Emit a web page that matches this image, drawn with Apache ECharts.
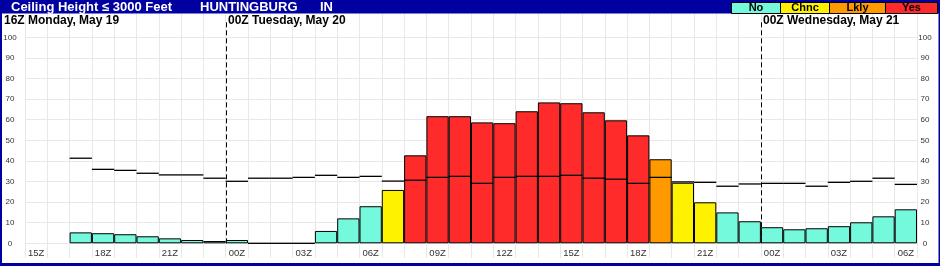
<!DOCTYPE html>
<html><head><meta charset="utf-8">
<script src="https://cdn.jsdelivr.net/npm/echarts@6/dist/echarts.min.js"></script>
<style>html,body{margin:0;padding:0;background:#fff}#c{width:940px;height:266px}</style>
</head><body><div id="c"></div>
<script>
// ---- data ----
const hours = ['15Z','16Z','17Z','18Z','19Z','20Z','21Z','22Z','23Z',
  '00Z','01Z','02Z','03Z','04Z','05Z','06Z','07Z','08Z','09Z','10Z','11Z','12Z','13Z','14Z','15Z','16Z','17Z','18Z','19Z','20Z','21Z','22Z','23Z',
  '00Z','01Z','02Z','03Z','04Z','05Z','06Z'];
const barValues = [null,null,5.3,4.9,4.4,3.4,2.4,1.6,1.1,
  1.6,0,0,0,6.0,12.1,18.0,25.9,42.7,61.7,61.7,58.7,58.3,64.1,68.4,68.0,63.6,59.7,52.4,40.8,29.4,19.9,15.0,10.7,
  7.8,6.8,7.3,8.3,10.2,13.1,16.5];
const barLevels = [null,null,'No','No','No','No','No','No','No',
  'No','No','No','No','No','No','No','Chnc','Yes','Yes','Yes','Yes','Yes','Yes','Yes','Yes','Yes','Yes','Yes','Lkly','Chnc','Chnc','No','No',
  'No','No','No','No','No','No','No'];
const lineValues = [null,null,41.3,35.9,35.4,34.0,33.2,33.2,31.6,
  30.1,31.6,31.6,32.0,33.0,32.0,32.5,30.2,30.6,32.0,32.5,29.1,32.0,32.5,32.5,33.0,31.6,31.1,29.1,32.0,29.8,29.6,27.7,28.8,
  29.1,29.1,27.7,29.6,30.1,31.6,28.6];
const levelNames = ['No','Chnc','Lkly','Yes'];
const dayLabels = ['16Z Monday, May 19','00Z Tuesday, May 20','00Z Wednesday, May 21'];
const dayStartIndex = [9,33];
const yTicks = [0,100,10];
const titleParts = ['Ceiling Height \u2264 3000 Feet','HUNTINGBURG','IN'];

// ---- styles ----
const levelColors = {No:'#74F9DC', Chnc:'#FFF200', Lkly:'#FF9900', Yes:'#FF2A2A'};
const FONT = '"Liberation Sans", Arial, sans-serif';
const BLUE = '#0000A0';
const GRIDC = '#e8e8e8';

const chart = echarts.init(document.getElementById('c'));

const barData = barValues.map((v,i)=> v==null ? '-' : {value:v, itemStyle:{color:levelColors[barLevels[i]]}});
const lineData = [];
lineValues.forEach((v,i)=>{ if(v!=null) lineData.push([i,v]); });

const legendX = [731,780,829,885,937];
const legendGraphics = [];
levelNames.forEach((n,i)=>{
  legendGraphics.push({type:'rect', shape:{x:legendX[i]+0.5,y:2.5,width:legendX[i+1]-legendX[i],height:11}, style:{fill:levelColors[n], stroke:'#000', lineWidth:1}, z:10});
  legendGraphics.push({type:'text', x:(legendX[i]+legendX[i+1])/2+0.5, y:8, style:{text:n, fill:'#000', font:'bold 11px '+FONT, textAlign:'center', textVerticalAlign:'middle'}, z:11});
});

const option = {
  animation:false,
  grid:[{left:25,right:23,top:37.3,bottom:22.7},{left:25,right:23,top:13.5,bottom:8}],
  xAxis:[
    {type:'category', data:hours, gridIndex:0, axisLine:{show:false}, axisTick:{show:false},
     axisLabel:{interval:2, fontSize:9.5, color:'#333', margin:5, fontFamily:FONT}, splitLine:{show:false}},
    {type:'category', data:hours, gridIndex:1, axisLine:{show:false}, axisTick:{show:false}, axisLabel:{show:false},
     splitLine:{show:true, interval:0, lineStyle:{color:GRIDC, width:1}}}
  ],
  yAxis:[
    {type:'value', gridIndex:0, min:yTicks[0], max:yTicks[1], interval:yTicks[2], axisLine:{show:false}, axisTick:{show:false},
     axisLabel:{fontSize:8, color:'#333', align:'center', margin:15, fontFamily:FONT}, splitLine:{lineStyle:{color:GRIDC}}},
    {type:'value', gridIndex:0, position:'right', min:yTicks[0], max:yTicks[1], interval:yTicks[2], axisLine:{show:false}, axisTick:{show:false},
     axisLabel:{fontSize:8, color:'#333', align:'center', margin:8, fontFamily:FONT}, splitLine:{show:false}},
    {type:'value', gridIndex:1, show:false}
  ],
  series:[
    {type:'bar', xAxisIndex:0, yAxisIndex:0, data:barData, barCategoryGap:'0%',
     itemStyle:{borderColor:'#000', borderWidth:1}, z:2},
    {type:'custom', xAxisIndex:0, yAxisIndex:0, data:lineData, z:4,
     renderItem:function(params, api){
       const p = api.coord([api.value(0), api.value(1)]);
       const w = api.size([1,0])[0];
       return {type:'line', shape:{x1:p[0]-w/2, y1:p[1], x2:p[0]+w/2, y2:p[1]}, style:{stroke:'#000', lineWidth:1.3}};
     }},
    {type:'custom', xAxisIndex:0, yAxisIndex:0, data:dayStartIndex.map(i=>[i,0]), z:5, clip:false,
     renderItem:function(params, api){
       const p = api.coord([api.value(0), 0]);
       const w = api.size([1,0])[0];
       const x = Math.round(p[0]-w/2)+0.5;
       const top = api.coord([api.value(0), 100])[1];
       return {type:'group', children:[
         {type:'line', shape:{x1:x, y1:top-15, x2:x, y2:p[1]}, style:{stroke:'#000', lineWidth:1, lineDash:[5,3]}},
         {type:'text', x:x+1.5, y:21, style:{text:dayLabels[params.dataIndex+1], fill:'#000', font:'bold 12px '+FONT, textVerticalAlign:'middle'}}
       ]};
     }}
  ],
  graphic:[
    {type:'rect', shape:{x:0,y:0,width:940,height:13.5}, style:{fill:BLUE}, z:9},
    {type:'rect', shape:{x:0,y:0,width:2,height:266}, style:{fill:BLUE}, z:9},
    {type:'rect', shape:{x:938.5,y:0,width:1.5,height:266}, style:{fill:BLUE}, z:9},
    {type:'rect', shape:{x:0,y:263,width:940,height:3}, style:{fill:BLUE}, z:9},
    {type:'text', x:11, y:7, style:{text:titleParts[0], fill:'#fff', font:'bold 13px '+FONT, textVerticalAlign:'middle'}, z:10},
    {type:'text', x:200, y:7, style:{text:titleParts[1], fill:'#fff', font:'bold 13px '+FONT, textVerticalAlign:'middle'}, z:10},
    {type:'text', x:320, y:7, style:{text:titleParts[2], fill:'#fff', font:'bold 13px '+FONT, textVerticalAlign:'middle'}, z:10},
    {type:'text', x:4, y:21, style:{text:dayLabels[0], fill:'#000', font:'bold 12px '+FONT, textVerticalAlign:'middle'}, z:10}
  ].concat(legendGraphics)
};
chart.setOption(option);
</script>
</body></html>
